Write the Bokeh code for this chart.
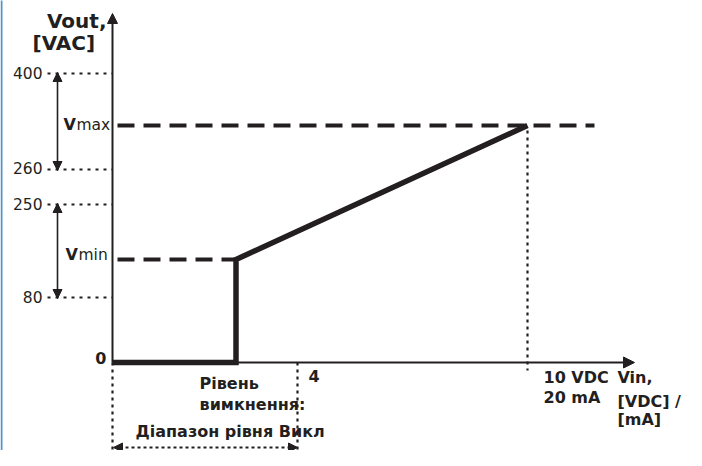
from bokeh.plotting import figure
from bokeh.models import Range1d, Arrow, NormalHead, ColumnDataSource
from bokeh.core.properties import value
from bokeh.embed import file_html
from bokeh.resources import INLINE

# ---- schematic data (diagram units: x = Vin position, y = Vout position) ----
vout_tick_labels = ["400", "260", "250", "80"]
vout_tick_pos = [289, 193, 158, 65]
vmax_pos = 237
vmin_pos = 103
vin_switch_on = 123.5
vin_mark_4 = 185
vin_max = 415
vin_axis_end = 522
vout_axis_end = 349
output_x = [0, vin_switch_on, vin_switch_on, vin_max]
output_y = [0, 0, vmin_pos, vmax_pos]
dash_end_x = 482
label_x0 = -70
off_range_arrow_y = -85

INK = "#231f20"
FONT = "DejaVu Sans"

p = figure(width=686, height=450, output_backend="svg", toolbar_location=None,
           x_range=Range1d(-112, 574), y_range=Range1d(-88, 362),
           min_border=0, outline_line_color=None)
p.axis.visible = False
p.grid.visible = False
p.background_fill_color = "white"
p.border_fill_color = "white"

# left frame border
p.line([-111, -111], [-100, 370], line_color="#5592c8", line_width=2)

# tick dotted guide lines
for yv in vout_tick_pos:
    p.line([label_x0 + 5, 0], [yv, yv], line_color=INK, line_width=2, line_dash="3 5")

# vmax / vmin dashed levels
p.line([5, dash_end_x], [vmax_pos, vmax_pos], line_color=INK, line_width=4, line_dash="17 9")
p.line([5, vin_switch_on], [vmin_pos, vmin_pos], line_color=INK, line_width=4, line_dash="17 9")

# vertical dotted lines
p.line([vin_max, vin_max], [vmax_pos - 5, -8], line_color=INK, line_width=2.2, line_dash="3 4")
p.line([0, 0], [0, -110], line_color=INK, line_width=2.2, line_dash="3 4")
p.line([vin_mark_4, vin_mark_4], [0, -110], line_color=INK, line_width=2.2, line_dash="3 4")

# axes
p.line([0, 0], [0, vout_axis_end - 8], line_color=INK, line_width=2)
p.add_layout(Arrow(end=NormalHead(size=10, fill_color=INK, line_color=INK),
                   x_start=0, y_start=vout_axis_end - 10, x_end=0, y_end=vout_axis_end,
                   line_color=INK, line_width=2))
p.line([0, vin_axis_end - 8], [0, 0], line_color=INK, line_width=1.8)
p.add_layout(Arrow(end=NormalHead(size=11, fill_color=INK, line_color=INK),
                   x_start=vin_axis_end - 10, y_start=0, x_end=vin_axis_end, y_end=0,
                   line_color=INK, line_width=1.8))

# range double arrows (vmax, vmin)
arrow_x = -55
for y0, y1 in [(vout_tick_pos[0], vout_tick_pos[1]), (vout_tick_pos[2], vout_tick_pos[3])]:
    p.add_layout(Arrow(start=NormalHead(size=9, fill_color=INK, line_color=INK),
                       end=NormalHead(size=9, fill_color=INK, line_color=INK),
                       x_start=arrow_x, y_start=y1 - 1, x_end=arrow_x, y_end=y0 + 1,
                       line_color=INK, line_width=1.6))

# off-range dotted double arrow
p.add_layout(Arrow(start=NormalHead(size=9, fill_color=INK, line_color=INK, line_width=1),
                   end=NormalHead(size=9, fill_color=INK, line_color=INK, line_width=1),
                   x_start=1, y_start=off_range_arrow_y, x_end=vin_mark_4, y_end=off_range_arrow_y,
                   line_color=INK, line_width=1.8, line_dash="3 3"))

# output characteristic
p.line(output_x, output_y, line_color=INK, line_width=5.5, line_join="miter")

# ---- texts ----
def add_text(xs, ys, texts, size, style, align):
    src = ColumnDataSource(dict(x=xs, y=ys, t=texts))
    p.text("x", "y", text="t", source=src, text_font=value(FONT), text_font_size=size,
           text_font_style=style, text_color=INK, text_align=align,
           text_baseline="alphabetic")

add_text([-6], [342], ["Vout,"], "20px", "bold", "right")
add_text([-80], [320], ["[VAC]"], "20px", "bold", "left")
add_text([label_x0] * 4, [290, 195, 159, 66], vout_tick_labels, "15.5px", "normal", "right")
add_text([-6], [5], ["0"], "16px", "bold", "right")
add_text([-49, -47], [238, 108], ["V", "V"], "16px", "bold", "left")
add_text([-36, -34], [238, 108], ["max", "min"], "15.5px", "normal", "left")
add_text([196, 87, 87, 23, 431, 431, 505, 505, 505],
         [-13, -21, -42, -69, -15, -35, -15, -39, -57],
         ["4", "Рівень", "вимкнення:", "Діапазон рівня Викл", "10 VDC", "20 mA",
          "Vin,", "[VDC] /", "[mA]"],
         "16px", "bold", "left")

open("out.html", "w").write(file_html(p, INLINE))
